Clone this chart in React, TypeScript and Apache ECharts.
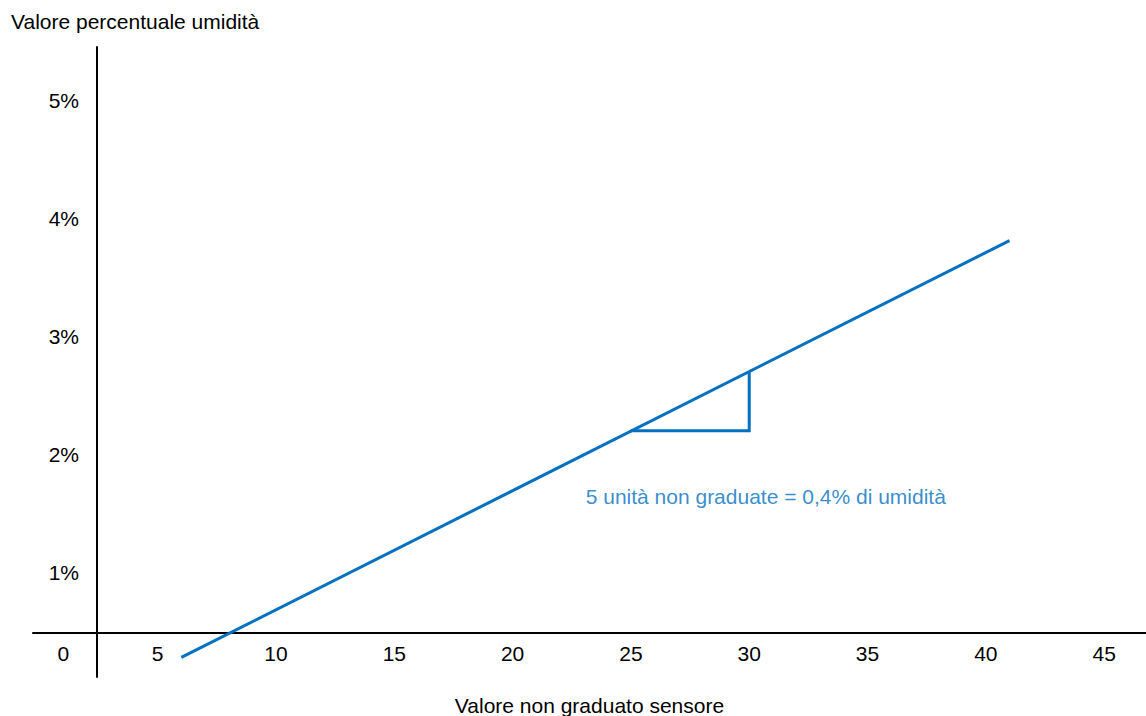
import React, { useEffect, useRef } from 'react';
import * as echarts from 'echarts';

// ---- data ----
const xTicks = [0, 5, 10, 15, 20, 25, 30, 35, 40, 45];
const yTicks = [1, 2, 3, 4, 5];
const trendLine = [
  [6, 0.28],
  [41, 3.81],
];
const slopeTriangle = [
  [25, 2.2],
  [30, 2.2],
  [30, 2.7],
];
const annotationAnchor = [[30.7, 1.64]];
const annotationText = '5 unità non graduate = 0,4% di umidità';
const xAxisName = 'Valore non graduato sensore';
const yAxisName = 'Valore percentuale umidità';

const FONT = '"Liberation Sans", Arial, Helvetica, sans-serif';
const BLUE = '#0070C0';
const INK = '#000000';

export default function App() {
  const ref = useRef<HTMLDivElement>(null);

  useEffect(() => {
    if (!ref.current) return;
    const chart = echarts.init(ref.current, undefined, { renderer: 'svg' });
    const textBase = { fontSize: 21, fontFamily: FONT, color: INK };
    chart.setOption({
      animation: false,
      backgroundColor: '#ffffff',
      title: {
        text: yAxisName,
        left: 6,
        top: 6,
        textStyle: { ...textBase, fontWeight: 'normal' },
      },
      grid: {
        left: 33,
        right: 0,
        top: 47,
        bottom: 39,
        containLabel: false,
        outerBoundsMode: 'none',
      },
      xAxis: {
        type: 'value',
        min: -0.27,
        max: 46.77,
        offset: -44,
        splitLine: { show: false },
        axisTick: { show: false },
        axisLine: { show: true, onZero: false, lineStyle: { color: INK, width: 2 } },
        axisLabel: {
          customValues: xTicks,
          margin: 10,
          ...textBase,
          formatter: (v: number) => (v === 0 ? '{zero|0}' : String(v)),
          rich: {
            zero: { ...textBase, padding: [0, 0, 0, 48] },
          },
        },
        name: xAxisName,
        nameLocation: 'middle',
        nameGap: 62,
        nameTextStyle: textBase,
      },
      yAxis: {
        type: 'value',
        min: 0.114,
        max: 5.45,
        offset: -64,
        splitLine: { show: false },
        axisTick: { show: false },
        axisLine: { show: true, onZero: false, lineStyle: { color: INK, width: 2 } },
        axisLabel: {
          customValues: yTicks,
          margin: 18,
          ...textBase,
          formatter: (v: number) => `${v}%`,
        },
      },
      series: [
        {
          type: 'line',
          data: trendLine,
          symbol: 'none',
          lineStyle: { color: BLUE, width: 3 },
          silent: true,
        },
        {
          type: 'line',
          data: slopeTriangle,
          symbol: 'none',
          lineStyle: { color: BLUE, width: 3, join: 'miter' },
          silent: true,
        },
        {
          type: 'scatter',
          data: annotationAnchor,
          symbolSize: 1,
          itemStyle: { color: 'rgba(0,0,0,0)' },
          silent: true,
          label: {
            show: true,
            position: 'inside',
            formatter: annotationText,
            fontSize: 21,
            fontFamily: FONT,
            color: BLUE,
          },
        },
      ],
    });
    return () => chart.dispose();
  }, []);

  return (
    <div
      ref={ref}
      style={{ position: 'fixed', left: 0, top: 0, width: 1146, height: 716, background: '#fff' }}
    />
  );
}
